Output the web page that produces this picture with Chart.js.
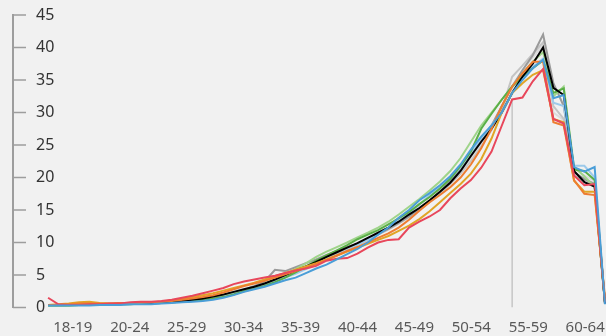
<!DOCTYPE html>
<html>
<head>
<meta charset="utf-8">
<script src="https://cdn.jsdelivr.net/npm/chart.js@4/dist/chart.umd.min.js"></script>
<style>
  html, body { margin: 0; padding: 0; background: #f1f1f1; }
  #chartArea { width: 606px; height: 336px; }
  canvas { display: block; }
</style>
</head>
<body>
<div id="chartArea"><canvas id="chartArea-canvas" width="606" height="336"></canvas></div>
<script>
// tick labels of the x axis (age groups)
const ageGroups = ["18-19", "20-24", "25-29", "30-34", "35-39", "40-44", "45-49", "50-54", "55-59", "60-64"];

// y ticks
const yTicks = [0, 5, 10, 15, 20, 25, 30, 35, 40, 45];

// one value per point, 55 points per line
const seriesBlack = [0.4,0.4,0.4,0.5,0.5,0.5,0.5,0.6,0.6,0.7, 0.7,0.8,0.9,1.0,1.2,1.4,1.7,2.0,2.4,2.8, 3.2,3.7,4.3,5.0,5.7,6.3,7.0,7.8,8.5,9.2, 9.9,10.7,11.5,12.3,13.2,14.3,15.3,16.5,17.8,19.2, 21.0,23.3,25.5,27.5,30.0,33.0,35.5,37.5,40.0,33.8, 32.7,21.0,19.3,18.6,0.6];
const seriesDarkGray = [0.4,0.4,0.4,0.4,0.5,0.5,0.5,0.6,0.6,0.7, 0.7,0.8,0.9,1.0,1.1,1.3,1.6,1.9,2.3,2.7, 3.3,4.0,5.8,5.6,6.2,6.8,7.4,8.1,8.7,9.3, 9.8,10.5,11.3,12.1,13.0,14.0,15.2,16.4,17.8,19.5, 21.3,23.5,25.8,28.0,31.0,34.0,36.5,38.8,42.0,34.5, 31.0,20.8,19.8,19.0,0.8];
const seriesGray = [0.3,0.3,0.4,0.4,0.4,0.5,0.5,0.5,0.6,0.6, 0.7,0.7,0.8,0.9,1.0,1.2,1.5,1.8,2.2,2.6, 3.0,3.5,4.1,4.8,5.5,6.2,6.9,7.6,8.3,9.0, 9.7,10.4,11.2,12.0,12.9,13.9,15.0,16.2,17.5,19.0, 20.6,22.5,24.8,27.3,30.5,35.5,37.2,39.0,40.8,31.0, 29.0,20.3,19.5,18.7,0.7];
const seriesLightGray = [0.4,0.4,0.5,0.5,0.5,0.5,0.6,0.6,0.6,0.7, 0.8,0.9,1.0,1.1,1.3,1.5,1.8,2.1,2.5,2.9, 3.3,3.8,4.4,5.0,5.7,6.4,7.1,7.8,8.5,9.2, 9.9,10.6,11.4,12.2,13.1,14.1,15.2,16.4,17.7,19.2, 21.0,23.0,25.3,27.8,30.8,33.5,36.5,38.5,40.3,30.0, 28.8,21.5,20.3,19.5,0.9];
const seriesGreen = [0.3,0.3,0.3,0.4,0.4,0.4,0.5,0.5,0.5,0.6, 0.6,0.7,0.8,0.9,1.0,1.2,1.4,1.6,2.0,2.5, 2.9,3.3,3.9,4.6,5.4,6.3,7.2,8.0,8.8,9.6, 10.5,11.2,11.9,12.8,13.7,14.7,15.9,17.0,18.3,19.8, 21.8,24.0,27.5,29.8,32.0,34.0,35.5,36.8,38.0,33.0, 33.7,21.2,21.0,19.6,0.8];
const seriesLightGreen = [0.3,0.3,0.3,0.4,0.4,0.5,0.5,0.5,0.6,0.6, 0.7,0.8,0.9,1.0,1.1,1.3,1.5,1.8,2.2,2.6, 3.1,3.6,4.3,5.1,5.9,6.8,7.8,8.6,9.3,10.0, 10.8,11.5,12.3,13.2,14.3,15.5,16.7,18.0,19.4,21.0, 23.0,25.5,28.0,30.0,32.0,34.0,36.0,37.8,39.3,32.5, 34.0,21.6,20.2,18.5,0.8];
const seriesBlue = [0.3,0.3,0.3,0.3,0.3,0.4,0.4,0.4,0.5,0.5, 0.5,0.6,0.7,0.8,0.9,1.0,1.2,1.5,1.9,2.4, 2.8,3.2,3.7,4.2,4.6,5.3,6.0,6.6,7.4,8.2, 9.0,10.0,11.2,12.3,13.8,15.0,16.5,17.6,18.8,20.2, 22.0,24.3,26.3,28.0,30.0,33.0,35.0,36.8,38.1,32.2, 32.7,21.6,20.9,21.6,0.5];
const seriesLightBlue = [0.3,0.3,0.4,0.4,0.4,0.4,0.5,0.5,0.5,0.6, 0.6,0.7,0.8,0.9,1.0,1.2,1.4,1.7,2.1,2.6, 3.0,3.5,4.0,4.6,5.2,5.9,6.6,7.3,8.0,8.8, 9.6,10.4,11.5,12.3,13.3,14.5,15.8,17.3,18.5,19.8, 21.6,23.8,26.0,28.0,30.2,33.0,35.5,37.0,38.3,31.5, 31.0,21.8,21.8,20.0,0.6];
const seriesOrange = [0.4,0.4,0.5,0.6,0.6,0.6,0.6,0.7,0.7,0.8, 0.8,0.9,1.0,1.2,1.4,1.6,1.9,2.3,2.8,3.3, 3.7,4.1,4.6,5.1,5.6,6.1,6.7,7.3,8.0,8.7, 9.3,10.0,10.7,11.4,12.3,13.5,14.9,16.2,17.3,18.5, 20.0,22.0,24.5,27.5,31.0,34.0,36.0,37.8,37.8,28.5, 28.0,19.6,17.5,17.3,1.6];
const seriesGold = [0.4,0.5,0.6,0.8,0.9,0.7,0.6,0.6,0.7,0.7, 0.8,0.9,1.1,1.3,1.6,1.9,2.2,2.6,3.0,3.4, 3.8,4.3,4.8,5.3,5.8,6.3,6.8,7.4,8.0,8.6, 9.2,9.8,10.4,11.0,11.8,12.6,13.6,14.8,16.2,17.6, 19.0,20.6,22.8,26.0,30.0,33.0,34.5,35.8,36.5,29.0, 28.5,19.5,17.8,17.8,1.0];
const seriesRed = [1.5,0.5,0.4,0.4,0.5,0.5,0.6,0.6,0.8,0.9, 0.9,1.0,1.2,1.5,1.8,2.2,2.6,3.0,3.6,4.0, 4.3,4.6,4.9,5.3,5.7,6.0,6.4,7.2,7.5,7.6, 8.3,9.2,10.0,10.4,10.5,12.3,13.2,14.0,15.0,16.8, 18.3,19.6,21.5,24.0,28.0,32.0,32.3,34.8,36.7,29.0, 28.3,20.3,18.8,19.0,0.8];

// grey marker line
const markerPoint = 45;
const markerTop = [0, 32];

// label k sits at firstLabelAt + k * labelStep (in point units)
const firstLabelAt = 2.4;
const labelStep = 5.52;

function toPoints(values) {
    return values.map((v, i) => ({ x: i, y: v }));
}

function line(values, color) {
    return {
        data: toPoints(values),
        borderColor: color,
        borderWidth: 2,
        pointRadius: 0,
        tension: 0,
        fill: false
    };
}

// draws the short inward ticks of the y axis
const yTickMarks = {
    id: 'yTickMarks',
    beforeDatasetsDraw(chart) {
        const ctx = chart.ctx;
        const y = chart.scales.y;
        const left = chart.chartArea.left;
        ctx.save();
        ctx.strokeStyle = '#9d9d9d';
        ctx.lineWidth = 1.5;
        y.ticks.forEach(t => {
            const py = y.getPixelForValue(t.value);
            ctx.beginPath();
            ctx.moveTo(left, py);
            ctx.lineTo(left + 13, py);
            ctx.stroke();
        });
        ctx.restore();
    }
};

const canvas = document.getElementById('chartArea-canvas');
const chartJs = new Chart(canvas, {
    type: 'line',
    data: {
        datasets: [
            line(seriesBlue, '#4a9ed8'),
            line(seriesRed, '#e8475b'),
            line(seriesOrange, '#ee7d31'),
            line(seriesGold, '#e1a526'),
            line(seriesBlack, '#000000'),
            line(seriesGreen, '#5aaf47'),
            line(seriesLightBlue, '#9dcaea'),
            line(seriesLightGreen, '#9fd48a'),
            line(seriesDarkGray, '#9a9a9a'),
            line(seriesGray, '#c4c4c4'),
            line(seriesLightGray, '#dcdcdc'),
            {
                data: markerTop.map(v => ({ x: markerPoint, y: v })),
                borderColor: '#c6c6c6',
                borderWidth: 1.5,
                pointRadius: 0
            }
        ]
    },
    options: {
        responsive: false,
        animation: false,
        maintainAspectRatio: false,
        layout: { padding: { left: 13, top: 15, right: 0, bottom: 0 } },
        plugins: {
            legend: { display: false },
            tooltip: { enabled: false }
        },
        scales: {
            x: {
                type: 'linear',
                min: -3.4,
                max: 54.1,
                grid: { display: false },
                border: { display: false },
                afterBuildTicks: scale => {
                    scale.ticks = ageGroups.map((_, k) => ({ value: firstLabelAt + k * labelStep }));
                },
                afterFit: scale => {
                    scale.height = 28.5;
                    scale.paddingLeft = 0;
                    scale.paddingRight = 0;
                },
                ticks: {
                    autoSkip: false,
                    maxRotation: 0,
                    padding: 3,
                    color: '#595959',
                    font: { family: 'Noto Sans', size: 15 },
                    callback: (value, index) => ageGroups[index]
                }
            },
            y: {
                min: 0,
                max: 45,
                afterBuildTicks: scale => {
                    scale.ticks = yTicks.map(v => ({ value: v }));
                },
                afterFit: scale => {
                    scale.width = 0;
                    scale.paddingTop = 0;
                    scale.paddingBottom = 0;
                },
                grid: { display: true, drawOnChartArea: false, drawTicks: false },
                border: { display: true, color: '#9d9d9d', width: 2 },
                ticks: {
                    autoSkip: false,
                    mirror: true,
                    padding: 23,
                    color: '#333333',
                    font: { family: 'Noto Sans', size: 16 }
                }
            }
        }
    },
    plugins: [yTickMarks]
});
</script>
</body>
</html>
